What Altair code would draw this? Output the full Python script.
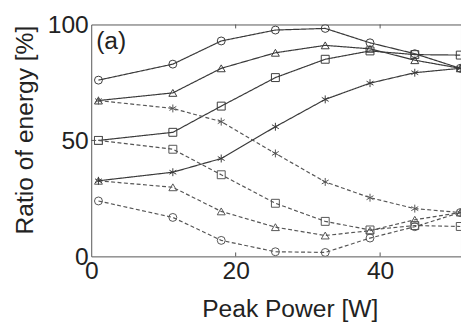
import altair as alt
import pandas as pd

power = [1.0, 11.3, 18.0, 25.5, 32.4, 38.6, 44.8, 51.1]

circle_solid = [76.0, 82.9, 92.9, 97.6, 98.3, 92.1, 87.4, 81.1]
circle_dashed = [23.9, 16.8, 6.9, 2.0, 1.7, 7.9, 12.8, 18.9]
triangle_solid = [67.2, 70.5, 81.1, 87.8, 91.0, 89.5, 84.6, 81.1]
triangle_dashed = [32.6, 29.8, 19.4, 12.6, 9.0, 11.1, 15.8, 18.9]
square_solid = [50.0, 53.5, 64.8, 77.1, 85.0, 88.6, 87.0, 86.8]
square_dashed = [50.0, 46.2, 35.2, 22.9, 15.1, 11.4, 13.3, 12.9]
star_solid = [32.6, 36.3, 42.2, 55.9, 67.7, 74.7, 79.2, 81.1]
star_dashed = [67.2, 63.8, 58.1, 44.4, 32.1, 25.3, 20.6, 18.9]

x_ticks = [20, 40]
y_ticks = [50]

series = [
    ("circle", "solid", circle_solid),
    ("circle", "dashed", circle_dashed),
    ("triangle", "solid", triangle_solid),
    ("triangle", "dashed", triangle_dashed),
    ("square", "solid", square_solid),
    ("square", "dashed", square_dashed),
    ("star", "solid", star_solid),
    ("star", "dashed", star_dashed),
]

rows = []
for marker, style, vals in series:
    for p, v in zip(power, vals):
        rows.append({"x": p, "y": v, "marker": marker, "style": style, "sid": marker + style})
df = pd.DataFrame(rows)

FONT = "Liberation Sans"
W, H = 376.3, 236

xs = alt.Scale(domain=[0, 51.2], nice=False, zero=False)
ys = alt.Scale(domain=[0, 100], nice=False)

star_path = "M0,-1L0,1M-0.87,-0.5L0.87,0.5M-0.87,0.5L0.87,-0.5"

color_scale = alt.Scale(domain=["solid", "dashed"], range=["#3a3a3a", "#555555"])

axis_style = dict(labelFont=FONT, titleFont=FONT, labelFontSize=25, titleFontSize=25,
                  labelColor="#222", titleColor="#222", titleFontWeight="normal",
                  ticks=False, domain=False, grid=False, labelFlush=False, labelOverlap=False)

lines = alt.Chart(df).mark_line(strokeWidth=1.2, clip=True).encode(
    x=alt.X("x:Q", scale=xs,
            axis=alt.Axis(values=[0, 20, 40], title="Peak Power [W]",
                          labelPadding=3, titleX=202, titleY=61, titleAlign="center",
                          titleBaseline="alphabetic", **axis_style)),
    y=alt.Y("y:Q", scale=ys,
            axis=alt.Axis(values=[0, 50, 100], title="Ratio of energy [%]",
                          labelPadding=3, titleX=-60, titleY=107, titleAngle=270,
                          titleAlign="center", titleBaseline="alphabetic", **axis_style)),
    detail="sid:N",
    color=alt.Color("style:N", scale=color_scale, legend=None),
    strokeDash=alt.StrokeDash("style:N", scale=alt.Scale(domain=["solid", "dashed"],
                                                         range=[[1, 0], [4, 2.5]]), legend=None),
)

points = alt.Chart(df).mark_point(filled=False, strokeWidth=1, size=65, clip=True, opacity=1).encode(
    x=alt.X("x:Q", scale=xs),
    y=alt.Y("y:Q", scale=ys),
    shape=alt.Shape("marker:N", scale=alt.Scale(domain=["circle", "triangle", "square", "star"],
                                                range=["circle", "triangle-up", "square", star_path]),
                    legend=None),
    color=alt.Color("style:N", scale=color_scale, legend=None),
)

tick_df = pd.DataFrame({"t": x_ticks})
ytick_df = pd.DataFrame({"t": y_ticks})
top_ticks = alt.Chart(tick_df).mark_rule(color="#555", strokeWidth=1).encode(
    x=alt.X("t:Q", scale=xs), y=alt.value(0), y2=alt.value(4))
bot_ticks = alt.Chart(tick_df).mark_rule(color="#555", strokeWidth=1).encode(
    x=alt.X("t:Q", scale=xs), y=alt.value(H - 4), y2=alt.value(H))
left_ticks = alt.Chart(ytick_df).mark_rule(color="#555", strokeWidth=1).encode(
    y=alt.Y("t:Q", scale=ys), x=alt.value(0), x2=alt.value(5))

label = alt.Chart(pd.DataFrame({"s": ["(a)"]})).mark_text(
    font=FONT, fontSize=25, align="left", baseline="alphabetic", color="#222").encode(
    text="s:N", x=alt.value(5), y=alt.value(25))

chart = alt.layer(lines, points, top_ticks, bot_ticks, left_ticks, label).properties(
    width=W, height=H,
    autosize=alt.AutoSizeParams(type="none"),
    padding={"left": 84.7, "top": 14, "right": 0, "bottom": 64},
).configure_view(stroke="#555", strokeWidth=1)

chart.save("out.html", embed_options={"renderer": "svg", "actions": False})
